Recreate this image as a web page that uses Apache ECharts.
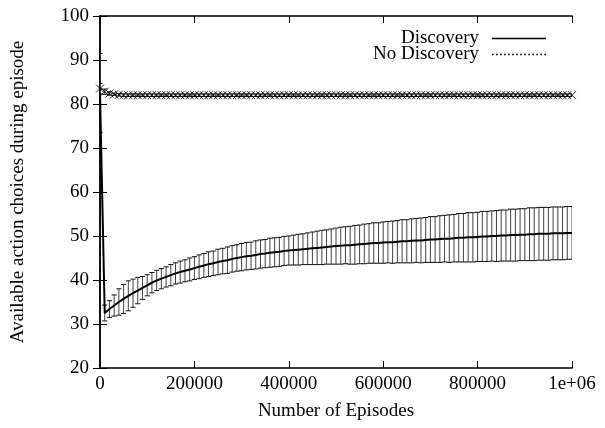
<!DOCTYPE html>
<html>
<head>
<meta charset="utf-8">
<script src="https://cdn.jsdelivr.net/npm/echarts@6/dist/echarts.min.js"></script>
<style>
  html, body { margin: 0; padding: 0; background: #fff; }
  #main { width: 605px; height: 428px; }
</style>
</head>
<body>
<div id="main"></div>
<script>
// episodes are sampled every 10000, index i -> i * 10000
var step = 10000;

var discoveryMean = [
	82.5, 32.5, 33.4, 34.2, 35.0, 35.7, 36.4, 37.0, 37.6, 38.2,
	38.8, 39.4, 39.9, 40.3, 40.7, 41.1, 41.5, 41.8, 42.1, 42.4,
	42.7, 43.0, 43.3, 43.6, 43.8, 44.1, 44.3, 44.5, 44.8, 45.0,
	45.2, 45.4, 45.5, 45.7, 45.9, 46.0, 46.2, 46.3, 46.4, 46.6,
	46.7, 46.8, 46.9, 47.0, 47.1, 47.2, 47.3, 47.4, 47.5, 47.6,
	47.7, 47.8, 47.9, 47.9, 48.0, 48.1, 48.2, 48.3, 48.4, 48.4,
	48.5, 48.6, 48.6, 48.7, 48.8, 48.8, 48.9, 49.0, 49.0, 49.1,
	49.2, 49.2, 49.3, 49.4, 49.4, 49.5, 49.6, 49.6, 49.7, 49.7,
	49.8, 49.9, 49.9, 50.0, 50.0, 50.1, 50.1, 50.2, 50.2, 50.3,
	50.3, 50.4, 50.4, 50.5, 50.5, 50.5, 50.6, 50.6, 50.6, 50.7,
	50.7
];
var discoveryErr = [
	9.0, 1.8, 1.9, 2.4, 3.0, 3.3, 3.4, 3.2, 3.0, 2.6,
	2.4, 2.3, 2.3, 2.3, 2.3, 2.4, 2.4, 2.5, 2.5, 2.6,
	2.6, 2.7, 2.7, 2.8, 2.8, 2.9, 2.9, 3.0, 3.0, 3.0,
	3.1, 3.1, 3.1, 3.2, 3.2, 3.2, 3.3, 3.3, 3.3, 3.3,
	3.3, 3.4, 3.5, 3.5, 3.6, 3.7, 3.8, 3.9, 3.9, 4.0,
	4.1, 4.2, 4.2, 4.3, 4.4, 4.4, 4.5, 4.5, 4.6, 4.6,
	4.7, 4.7, 4.8, 4.8, 4.9, 4.9, 5.0, 5.0, 5.1, 5.1,
	5.2, 5.2, 5.3, 5.3, 5.4, 5.4, 5.5, 5.5, 5.6, 5.6,
	5.6, 5.7, 5.7, 5.7, 5.8, 5.8, 5.8, 5.9, 5.9, 5.9,
	5.9, 6.0, 6.0, 6.0, 6.0, 6.0, 6.0, 6.0, 6.0, 6.0,
	6.0
];
var noDiscoveryMean = [
	83.5, 82.8, 82.4, 82.2, 82.1, 82.0, 82.0, 82.0, 82.0, 82.0,
	82.0, 82.0, 82.0, 82.0, 82.0, 82.0, 82.0, 82.0, 82.0, 82.0,
	82.0, 82.0, 82.0, 82.0, 82.0, 82.0, 82.0, 82.0, 82.0, 82.0,
	82.0, 82.0, 82.0, 82.0, 82.0, 82.0, 82.0, 82.0, 82.0, 82.0,
	82.0, 82.0, 82.0, 82.0, 82.0, 82.0, 82.0, 82.0, 82.0, 82.0,
	82.0, 82.0, 82.0, 82.0, 82.0, 82.0, 82.0, 82.0, 82.0, 82.0,
	82.0, 82.0, 82.0, 82.0, 82.0, 82.0, 82.0, 82.0, 82.0, 82.0,
	82.0, 82.0, 82.0, 82.0, 82.0, 82.0, 82.0, 82.0, 82.0, 82.0,
	82.0, 82.0, 82.0, 82.0, 82.0, 82.0, 82.0, 82.0, 82.0, 82.0,
	82.0, 82.0, 82.0, 82.0, 82.0, 82.0, 82.0, 82.0, 82.0, 82.0,
	82.0
];
var noDiscoveryErr = [
	1.2, 0.6, 0.4, 0.3, 0.3, 0.3, 0.3, 0.3, 0.3, 0.3,
	0.3, 0.3, 0.3, 0.3, 0.3, 0.3, 0.3, 0.3, 0.3, 0.3,
	0.3, 0.3, 0.3, 0.3, 0.3, 0.3, 0.3, 0.3, 0.3, 0.3,
	0.3, 0.3, 0.3, 0.3, 0.3, 0.3, 0.3, 0.3, 0.3, 0.3,
	0.3, 0.3, 0.3, 0.3, 0.3, 0.3, 0.3, 0.3, 0.3, 0.3,
	0.3, 0.3, 0.3, 0.3, 0.3, 0.3, 0.3, 0.3, 0.3, 0.3,
	0.3, 0.3, 0.3, 0.3, 0.3, 0.3, 0.3, 0.3, 0.3, 0.3,
	0.3, 0.3, 0.3, 0.3, 0.3, 0.3, 0.3, 0.3, 0.3, 0.3,
	0.3, 0.3, 0.3, 0.3, 0.3, 0.3, 0.3, 0.3, 0.3, 0.3,
	0.3, 0.3, 0.3, 0.3, 0.3, 0.3, 0.3, 0.3, 0.3, 0.3,
	0.3
];

var fontFam = '"Liberation Serif", "Times New Roman", serif';

// legend samples: solid line, dotted line
var solidIcon = 'path://M0,0L54,0L54,1.4L0,1.4Z';
var dottedIcon = 'path://M0,0h1.6v1.4h-1.6z M4,0h1.6v1.4h-1.6z M8,0h1.6v1.4h-1.6z M12,0h1.6v1.4h-1.6z M16,0h1.6v1.4h-1.6z M20,0h1.6v1.4h-1.6z M24,0h1.6v1.4h-1.6z M28,0h1.6v1.4h-1.6z M32,0h1.6v1.4h-1.6z M36,0h1.6v1.4h-1.6z M40,0h1.6v1.4h-1.6z M44,0h1.6v1.4h-1.6z M48,0h1.6v1.4h-1.6z M52,0h1.6v1.4h-1.6z';

function pairs(mean) {
	var out = [];
	for (var i = 0; i < mean.length; i++) {
		out.push([i * step, mean[i]]);
	}
	return out;
}
function bars(mean, err) {
	var out = [];
	for (var i = 0; i < mean.length; i++) {
		out.push([i * step, mean[i] - err[i], mean[i] + err[i]]);
	}
	return out;
}

function errRender(params, api) {
	var x = api.value(0);
	var lo = api.coord([x, api.value(1)]);
	var hi = api.coord([x, api.value(2)]);
	var w = 2.6;
	var st = { stroke: '#111', lineWidth: 1 };
	return {
		type: 'group',
		children: [
			{ type: 'line', shape: { x1: hi[0], y1: hi[1], x2: lo[0], y2: lo[1] }, style: { stroke: '#444', lineWidth: 1 } },
			{ type: 'line', shape: { x1: hi[0] - w, y1: hi[1], x2: hi[0] + w, y2: hi[1] }, style: st },
			{ type: 'line', shape: { x1: lo[0] - w, y1: lo[1], x2: lo[0] + w, y2: lo[1] }, style: st }
		]
	};
}

var tickStyle = { show: true, inside: true, length: 7, lineStyle: { color: '#000', width: 1 } };
var lineStyle = { show: true, lineStyle: { color: '#000', width: 1.5 } };
var labelFont = { fontFamily: fontFam, fontSize: 19, color: '#000' };

var option = {
	animation: false,
	backgroundColor: '#fff',
	textStyle: { fontFamily: fontFam },
	grid: { left: 100, right: 33, top: 16, bottom: 60, containLabel: false },
	legend: {
		data: [
			{ name: 'Discovery', icon: solidIcon },
			{ name: 'No Discovery', icon: dottedIcon }
		],
		orient: 'vertical',
		align: 'right',
		right: 59,
		top: 29,
		padding: 0,
		itemWidth: 54,
		itemHeight: 14,
		itemGap: -3,
		itemStyle: { color: '#000' },
		textStyle: { fontFamily: fontFam, fontSize: 19, color: '#000', padding: [0, 8, 0, 0] }
	},
	xAxis: [{
		type: 'value',
		min: 0,
		max: 1000000,
		interval: 200000,
		name: 'Number of Episodes',
		nameLocation: 'middle',
		nameGap: 34,
		nameTextStyle: labelFont,
		axisLine: lineStyle,
		axisTick: tickStyle,
		splitLine: { show: false },
		axisLabel: {
			margin: 7,
			formatter: function (v) { return '{t|' + (v === 1000000 ? '1e+06' : String(v)) + '}'; },
			rich: { t: labelFont }
		}
	}, {
		type: 'value',
		position: 'top',
		min: 0,
		max: 1000000,
		interval: 200000,
		axisLine: lineStyle,
		axisTick: tickStyle,
		splitLine: { show: false },
		axisLabel: { show: false }
	}],
	yAxis: [{
		type: 'value',
		min: 20,
		max: 100,
		interval: 10,
		name: 'Available action choices during episode',
		nameLocation: 'middle',
		nameGap: 72,
		nameTextStyle: labelFont,
		axisLine: lineStyle,
		axisTick: tickStyle,
		splitLine: { show: false },
		axisLabel: {
			margin: 11,
			formatter: '{t|{value}}',
			rich: { t: labelFont }
		}
	}, {
		type: 'value',
		position: 'right',
		min: 20,
		max: 100,
		interval: 10,
		axisLine: lineStyle,
		axisTick: tickStyle,
		splitLine: { show: false },
		axisLabel: { show: false }
	}],
	series: [{
		name: 'Discovery bars',
		type: 'custom',
		renderItem: errRender,
		encode: { x: 0, y: [1, 2] },
		data: bars(discoveryMean, discoveryErr),
		clip: true,
		z: 1
	}, {
		name: 'Discovery',
		type: 'line',
		data: pairs(discoveryMean),
		symbol: 'none',
		lineStyle: { color: '#000', width: 2 },
		itemStyle: { color: '#000' },
		z: 3
	}, {
		name: 'No Discovery bars',
		type: 'custom',
		renderItem: errRender,
		encode: { x: 0, y: [1, 2] },
		data: bars(noDiscoveryMean, noDiscoveryErr),
		clip: true,
		z: 1
	}, {
		name: 'No Discovery',
		type: 'line',
		data: pairs(noDiscoveryMean),
		symbol: 'none',
		lineStyle: { color: '#000', width: 1, type: [2, 2] },
		itemStyle: { color: '#000' },
		z: 2
	}, {
		name: 'No Discovery points',
		type: 'scatter',
		data: pairs(noDiscoveryMean),
		symbol: 'path://M0,0L10,10M10,0L0,10',
		symbolSize: 8,
		itemStyle: { color: 'rgba(0,0,0,0)', borderColor: '#000', borderWidth: 1 },
		z: 2
	}]
};

var chart = echarts.init(document.getElementById('main'), null, { renderer: 'canvas' });
chart.setOption(option);
</script>
</body>
</html>
